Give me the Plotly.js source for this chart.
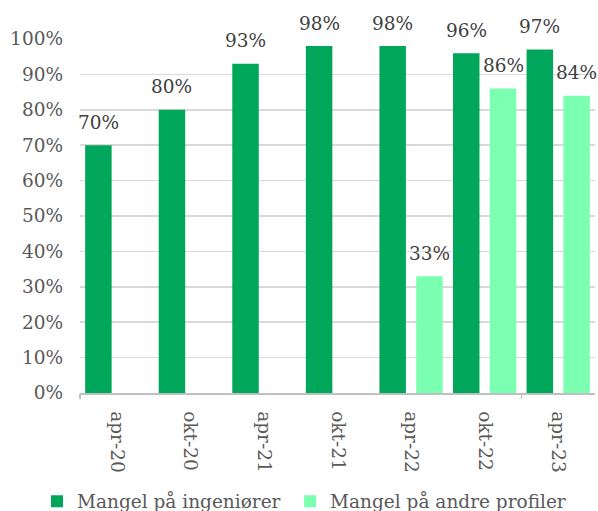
<!DOCTYPE html>
<html>
<head>
<meta charset="utf-8">
<script src="https://cdn.plot.ly/plotly-3.0.1.min.js"></script>
<style>
html,body{margin:0;padding:0;background:#fff;}
#chart{width:598px;height:511px;}
</style>
</head>
<body>
<div id="chart"></div>
<script>
var categories = ["apr-20","okt-20","apr-21","okt-21","apr-22","okt-22","apr-23"];
var ingeniorer = [70, 80, 93, 98, 98, 96, 97];
var andre = [null, null, null, null, 33, 86, 84];
var seriesNames = ["Mangel på ingeniører", "Mangel på andre profiler"];
var yTicks = [0,10,20,30,40,50,60,70,80,90,100];

var darkColor = "#00A65A";
var lightColor = "#7BFFB0";
var FONT = "DejaVu Serif";

var traces = [
  {type:"bar", name:seriesNames[0], x:categories, y:ingeniorer, marker:{color:darkColor}, hoverinfo:"none", legend:"legend"},
  {type:"bar", name:seriesNames[1], x:categories, y:andre, marker:{color:lightColor}, hoverinfo:"none", legend:"legend2"},
  {type:"scatter", mode:"none", x:[], y:[], xaxis:"x2", yaxis:"y", showlegend:false, hoverinfo:"none"}
];

var annotations = [];
var shift = 18.4;
categories.forEach(function(c,i){
  if (ingeniorer[i] != null) annotations.push({x:c, y:ingeniorer[i], xref:"x", yref:"y", text:ingeniorer[i]+"%", showarrow:false, xshift:-shift, yshift:23, yanchor:"middle", font:{family:FONT,size:18.5,color:"#404040"}});
  if (andre[i] != null) annotations.push({x:c, y:andre[i], xref:"x", yref:"y", text:andre[i]+"%", showarrow:false, xshift:shift, yshift:23, yanchor:"middle", font:{family:FONT,size:18.5,color:"#404040"}});
});

var legFont = {family:FONT,size:18.5,color:"#595959"};
var layout = {
  width:598, height:511,
  margin:{l:80, r:3, t:38.5, b:118, pad:0, autoexpand:false},
  paper_bgcolor:"#fff", plot_bgcolor:"#fff",
  font:{family:FONT, size:18.5, color:"#595959"},
  barmode:"group", bargap:0, bargroupgap:0.28,
  showlegend:true,
  legend:{orientation:"h", x:-0.0835, xanchor:"left", y:-0.307, yanchor:"middle", font:legFont, bgcolor:"rgba(0,0,0,0)"},
  legend2:{orientation:"h", x:0.408, xanchor:"left", y:-0.307, yanchor:"middle", font:legFont, bgcolor:"rgba(0,0,0,0)"},
  xaxis:{type:"category", range:[-0.5, 6.5], autorange:false, tickangle:90, ticks:"", showline:true, linecolor:"#BFBFBF", linewidth:1.5, showgrid:false, ticklabelstandoff:13, automargin:false, tickfont:{family:FONT,size:18.5,color:"#595959"}, fixedrange:true},
  xaxis2:{type:"linear", overlaying:"x", anchor:"y", side:"bottom", range:[-0.5, 6.5], autorange:false, tickmode:"array", tickvals:[-0.5, 5.5], ticks:"outside", ticklen:5, tickwidth:1.5, tickcolor:"#BFBFBF", showticklabels:false, showline:false, showgrid:false, zeroline:false, automargin:false, fixedrange:true},
  yaxis:{range:[0,100], tickvals:yTicks, ticktext:yTicks.map(function(v){return v+"%";}), showgrid:true, gridcolor:"#D9D9D9", gridwidth:1.5, zeroline:false, showline:false, ticks:"", ticklabelstandoff:16, automargin:false, tickfont:{family:FONT,size:18.5,color:"#595959"}, fixedrange:true},
  annotations:annotations
};

Plotly.newPlot("chart", traces, layout, {displayModeBar:false, staticPlot:true});
</script>
</body>
</html>
